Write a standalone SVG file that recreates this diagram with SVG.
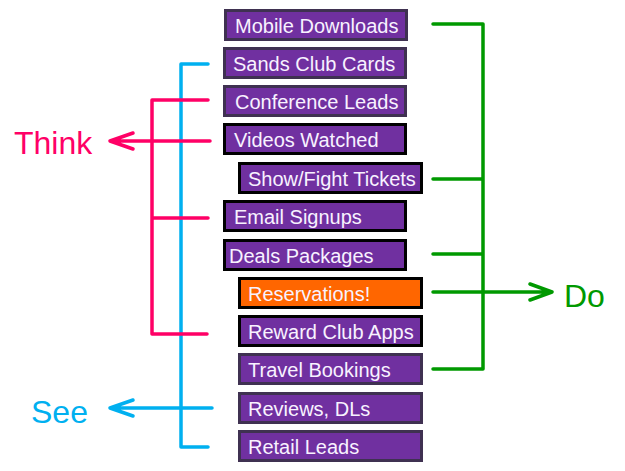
<svg xmlns="http://www.w3.org/2000/svg" width="625" height="471" viewBox="0 0 625 471">
<style>
.box{fill:#7030a0;stroke-width:3}
.dk{stroke:#3f3151}
.bk{stroke:#000}
.or{fill:#ff6600}
.t{font-family:"Liberation Sans",Arial,sans-serif;font-size:20px;fill:#f8f2ff}
.c{fill:none;stroke-width:3.5;stroke-linecap:round;stroke-linejoin:round}
.pk{stroke:#ff0066}
.bl{stroke:#00b0f0}
.gr{stroke:#009900}
.lab{font-family:"Liberation Sans",Arial,sans-serif;font-size:32px}
</style>
<rect width="625" height="471" fill="#fff"/>
<g id="connectors">
<path class="c bl" d="M208,64 H181 V447 H208"/>
<path class="c bl" d="M212,408 H110 M133,400 L110,408 L133,416"/>
<path class="c pk" d="M208,100 H152 V334 H207 M152,218 H208"/>
<path class="c pk" d="M210,141 H110 M133,133 L110,141 L133,149"/>
<path class="c gr" d="M433,24 H483 V369 H433 M433,179 H483 M433,254 H483"/>
<path class="c gr" d="M433,292 H552 M530,284 L552,292 L530,300"/>
</g>
<g id="think"><text class="lab" x="14" y="154" fill="#ff0066">Think</text></g>
<g id="see"><text class="lab" x="31" y="423" fill="#00b0f0">See</text></g>
<g id="do"><text class="lab" x="564" y="307" fill="#009900">Do</text></g>
<g id="n1"><rect class="box dk" x="225.5" y="10.5" width="181" height="29"/><text class="t" x="235" y="33">Mobile Downloads</text></g>
<g id="n2"><rect class="box dk" x="224.5" y="48.5" width="181" height="29"/><text class="t" x="233" y="71">Sands Club Cards</text></g>
<g id="n3"><rect class="box dk" x="224.5" y="86.5" width="181" height="29"/><text class="t" x="235" y="109">Conference Leads</text></g>
<g id="n4"><rect class="box bk" x="224.5" y="124.5" width="181" height="29"/><text class="t" x="234" y="147">Videos Watched</text></g>
<g id="n5"><rect class="box bk" x="239.5" y="163.5" width="182" height="29"/><text class="t" x="248" y="186">Show/Fight Tickets</text></g>
<g id="n6"><rect class="box bk" x="224.5" y="201.5" width="181" height="29"/><text class="t" x="234" y="224">Email Signups</text></g>
<g id="n7"><rect class="box bk" x="224.5" y="240.5" width="181" height="29"/><text class="t" x="229" y="263">Deals Packages</text></g>
<g id="n8"><rect class="box bk or" x="239.5" y="278.5" width="182" height="29"/><text class="t" x="248" y="301">Reservations!</text></g>
<g id="n9"><rect class="box bk" x="239.5" y="316.5" width="182" height="29"/><text class="t" x="248" y="339">Reward Club Apps</text></g>
<g id="n10"><rect class="box dk" x="239.5" y="354.5" width="182" height="29"/><text class="t" x="248" y="377">Travel Bookings</text></g>
<g id="n11"><rect class="box dk" x="239.5" y="393.5" width="182" height="29"/><text class="t" x="248" y="416">Reviews, DLs</text></g>
<g id="n12"><rect class="box dk" x="239.5" y="431.5" width="182" height="29"/><text class="t" x="248" y="454">Retail Leads</text></g>
</svg>
